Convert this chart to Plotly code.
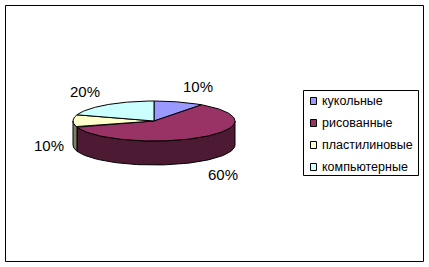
import numpy as np
import plotly.graph_objects as go

# ---- data ----
categories = ["кукольные", "рисованные", "пластилиновые", "компьютерные"]
values = [10, 60, 10, 20]
top_colors = ["#9999FF", "#993366", "#FFFFCC", "#CCFFFF"]
side_colors = ["#4D4D80", "#4D1A33", "#808066", "#668080"]

W, H = 429, 267
cx, cy, a, b, depth = 154, 121, 81, 20, 24

total = sum(values)
fracs = [v / total for v in values]
starts = np.cumsum([0] + fracs[:-1]) * 360.0
ends = np.cumsum(fracs) * 360.0


def ell(th_deg, dy=0.0):
    t = np.radians(th_deg)
    return cx + a * np.sin(t), cy - b * np.cos(t) + dy


fig = go.Figure()

# side walls (front half: 90..270 degrees clockwise from top)
for i, (s, e) in enumerate(zip(starts, ends)):
    lo, hi = max(s, 90.0), min(e, 270.0)
    if hi <= lo:
        continue
    th = np.linspace(lo, hi, 80)
    xt, yt = ell(th)
    xb, yb = ell(th[::-1], depth)
    fig.add_trace(go.Scatter(
        x=np.concatenate([xt, xb, xt[:1]]), y=np.concatenate([yt, yb, yt[:1]]),
        fill="toself", fillcolor=side_colors[i], mode="lines",
        line=dict(color="black", width=1), hoverinfo="skip", showlegend=False))

# top faces
for i, (s, e) in enumerate(zip(starts, ends)):
    th = np.linspace(s, e, 120)
    xt, yt = ell(th)
    fig.add_trace(go.Scatter(
        x=np.concatenate([[cx], xt, [cx]]), y=np.concatenate([[cy], yt, [cy]]),
        fill="toself", fillcolor=top_colors[i], mode="lines",
        line=dict(color="black", width=1), hoverinfo="skip", showlegend=False))

# percentage labels
for i, (s, e) in enumerate(zip(starts, ends)):
    m = np.radians((s + e) / 2)
    sx, cs = np.sin(m), np.cos(m)
    lx = cx + (a + 7) * sx
    ly = cy - 36 * cs + (depth if cs < 1e-9 else 0)
    fig.add_annotation(x=lx, y=ly, text=f"{fracs[i]*100:.0f}%", showarrow=False,
                       xanchor="left" if sx > 0.01 else ("right" if sx < -0.01 else "center"),
                       yanchor="middle",
                       font=dict(family="Arial, Liberation Sans", size=15, color="black"))

# outer border
fig.add_shape(type="rect", x0=5.5, y0=5.5, x1=423.5, y1=261.5,
              line=dict(color="black", width=1), fillcolor="rgba(0,0,0,0)", layer="below")

# legend (manual)
lg_x0, lg_y0, lg_x1, lg_y1 = 303.5, 90.5, 418.5, 175.5
fig.add_shape(type="rect", x0=lg_x0, y0=lg_y0, x1=lg_x1, y1=lg_y1,
              line=dict(color="black", width=1), fillcolor="white")
for i, name in enumerate(categories):
    yc = 101 + i * 22
    fig.add_shape(type="rect", x0=310.5, y0=yc - 3.5, x1=316.5, y1=yc + 3.5,
                  line=dict(color="black", width=1), fillcolor=top_colors[i])
    fig.add_annotation(x=320, y=yc, text=name, showarrow=False, xanchor="left", yanchor="middle",
                       font=dict(family="Arial, Liberation Sans", size=12.5, color="black"))

fig.update_layout(
    width=W, height=H, margin=dict(l=0, r=0, t=0, b=0),
    paper_bgcolor="white", plot_bgcolor="white", showlegend=False,
    xaxis=dict(range=[0, W], visible=False, fixedrange=True),
    yaxis=dict(range=[H, 0], visible=False, fixedrange=True),
)

fig.write_html("out.html", config={"displayModeBar": False})
